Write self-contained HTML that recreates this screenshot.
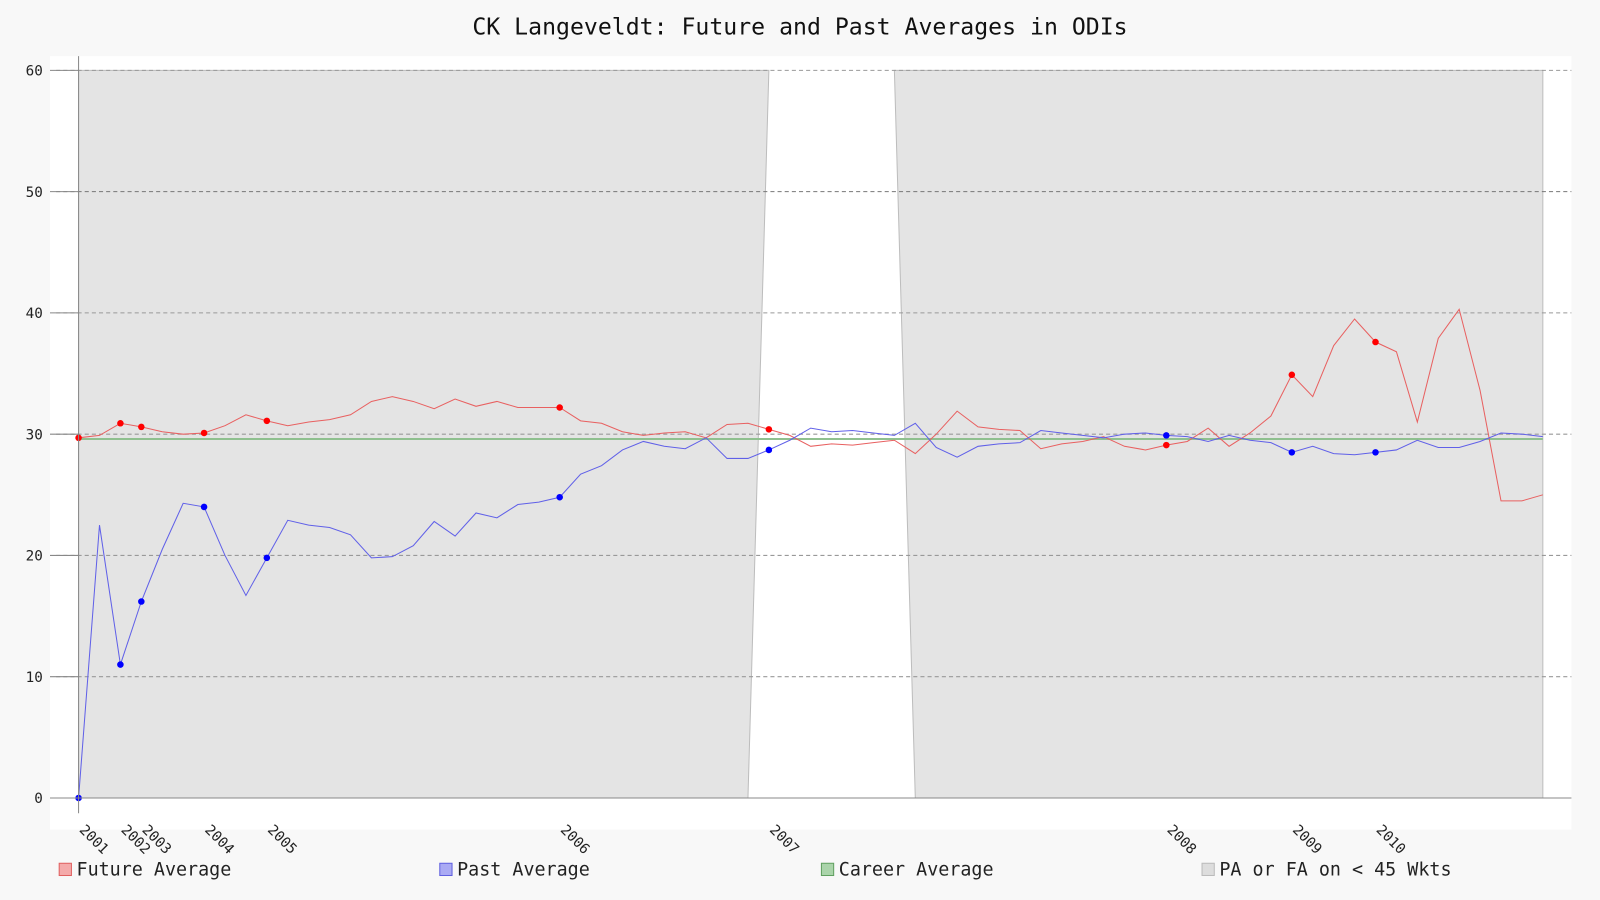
<!DOCTYPE html>
<html><head><meta charset="utf-8"><style>
body{margin:0;background:#f8f8f8;}
svg{display:block;font-family:"DejaVu Sans Mono","Liberation Mono",monospace;}
</style></head><body>
<svg id="chart" width="1600" height="900">
<rect x="0" y="0" width="1600" height="900" fill="#f8f8f8"/>
<g transform="scale(1.0204)">
<text x="784" y="34" text-anchor="middle" font-size="22.7" fill="#111">CK Langeveldt: Future and Past Averages in ODIs</text>
<rect x="49" y="55" width="1491" height="758" fill="#ffffff"/>
<g id="shade"></g><g id="grid"></g><g id="lines"></g><g id="axes"></g>
<g>
<rect x="58" y="846" width="12" height="12" fill="#f4aaaa" stroke="#e06060"/>
<text x="75" y="858" font-size="18" fill="#222">Future Average</text>
<rect x="431" y="846" width="12" height="12" fill="#aaaaf4" stroke="#6060e0"/>
<text x="448" y="858" font-size="18" fill="#222">Past Average</text>
<rect x="805" y="846" width="12" height="12" fill="#aad4aa" stroke="#60a060"/>
<text x="822" y="858" font-size="18" fill="#222">Career Average</text>
<rect x="1178" y="846" width="12" height="12" fill="#dddddd" stroke="#bbbbbb"/>
<text x="1195" y="858" font-size="18" fill="#222">PA or FA on &lt; 45 Wkts</text>
</g>
</g>
</svg>
<script>
const future=[29.7,29.9,30.9,30.6,30.2,30.0,30.1,30.7,31.6,31.1,30.7,31.0,31.2,31.6,32.7,33.1,32.7,32.1,32.9,32.3,32.7,32.2,32.2,32.2,31.1,30.9,30.2,29.9,30.1,30.2,29.7,30.8,30.9,30.4,29.9,29.0,29.2,29.1,29.3,29.5,28.4,30.0,31.9,30.6,30.4,30.3,28.8,29.2,29.4,29.8,29.0,28.7,29.1,29.4,30.5,29.0,30.1,31.5,34.9,33.1,37.3,39.5,37.6,36.8,31.0,37.9,40.3,33.6,24.5,24.5,25.0];
const past=[0,22.5,11.0,16.2,20.5,24.3,24.0,20.0,16.7,19.8,22.9,22.5,22.3,21.7,19.8,19.9,20.8,22.8,21.6,23.5,23.1,24.2,24.4,24.8,26.7,27.4,28.7,29.4,29.0,28.8,29.7,28.0,28.0,28.7,29.5,30.5,30.2,30.3,30.1,29.9,30.9,28.9,28.1,29.0,29.2,29.3,30.3,30.1,29.9,29.7,30.0,30.1,29.9,29.8,29.4,29.9,29.5,29.3,28.5,29.0,28.4,28.3,28.5,28.7,29.5,28.9,28.9,29.4,30.1,30.0,29.8];
const career=29.6;
const shadeTop=[[0,33],[39,70]];
const shadeBottom=[[0,32],[40,70]];
const yTicks=[0,10,20,30,40,50,60];
const yearIdx=[0,2,3,6,9,23,33,52,58,62];
const yearLabels=["2001","2002","2003","2004","2005","2006","2007","2008","2009","2010"];
const NS="http://www.w3.org/2000/svg";
const X=i=>77+i*(1512-77)/(future.length-1);
const Y=v=>782-v*(782-69)/60;
function mk(tag,attrs,parent){const e=document.createElementNS(NS,tag);for(const k in attrs)e.setAttribute(k,attrs[k]);document.getElementById(parent).appendChild(e);return e;}
for(let r=0;r<shadeTop.length;r++){
 const t=shadeTop[r],b=shadeBottom[r];
 const pts=`${X(t[0])},${Y(60)} ${X(t[1])},${Y(60)} ${X(b[1])},${Y(0)} ${X(b[0])},${Y(0)}`;
 const p=mk('polygon',{points:pts,fill:'#e4e4e4',stroke:'#bdbdbd','stroke-width':1},'shade');
 
 
}
yTicks.forEach(v=>{
 if(v>0){const l=mk('line',{x1:55,x2:1540,y1:Y(v),y2:Y(v),stroke:v===50?'#777':'#999','stroke-dasharray':'4,3','stroke-width':1},'grid');
 
 }
 const t=mk('text',{x:42,y:Y(v)+5,'text-anchor':'end','font-size':14,fill:'#222'},'axes');t.textContent=v;
 
 
 const tk=mk('line',{x1:49,x2:77,y1:Y(v),y2:Y(v),stroke:'#888'},'axes');
 
 
});
const c=mk('line',{x1:X(0),x2:X(future.length-1),y1:Y(career),y2:Y(career),stroke:'#8fc08f','stroke-width':2},'lines');


function series(arr,col,dot,name){
 const p=mk('polyline',{points:arr.map((v,i)=>X(i)+','+Y(v)).join(' '),fill:'none',stroke:col,'stroke-width':1},'lines');
 
 
 yearIdx.forEach(i=>{const d=mk('circle',{cx:X(i),cy:Y(arr[i]),r:3.2,fill:dot},'lines');
 
 });
}
series(future,'#e86060','#ff0000','future-average');
series(past,'#6060e8','#0000ff','past-average');
const ax=mk('line',{x1:77,x2:77,y1:55,y2:797,stroke:'#888'},'axes');


const bx=mk('line',{x1:49,x2:1540,y1:782,y2:782,stroke:'#888'},'axes');


yearIdx.forEach((i,k)=>{
 const x=X(i),y=814;
 const t=mk('text',{x:x,y:y,'font-size':14,fill:'#222',transform:`rotate(45 ${x} ${y})`},'axes');
 t.textContent=yearLabels[k];
 
 
});
</script>
</body></html>
